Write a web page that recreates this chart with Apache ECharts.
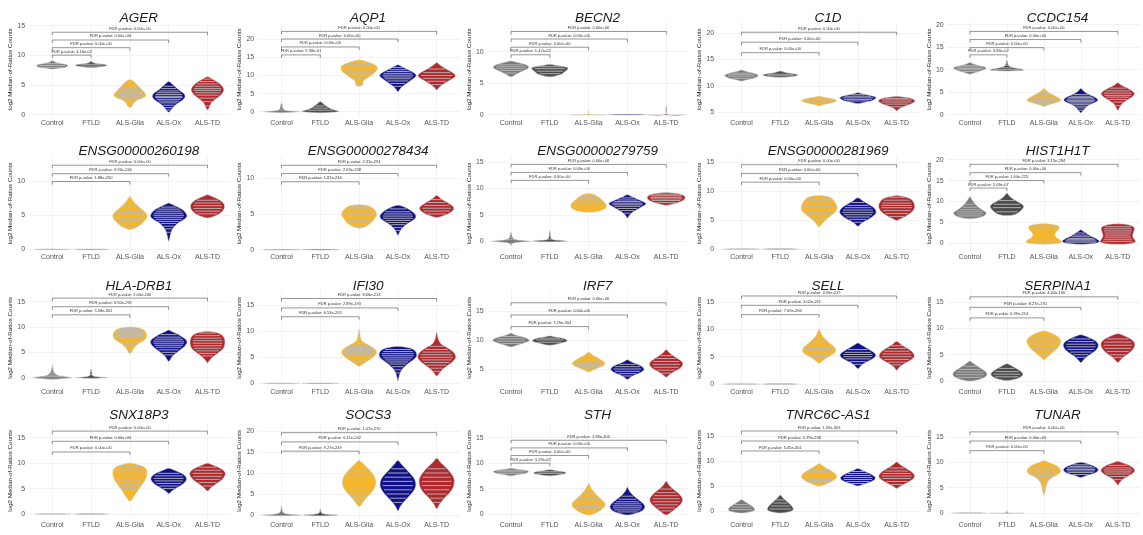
<!DOCTYPE html>
<html>
<head>
<meta charset="utf-8">
<script src="https://cdn.jsdelivr.net/npm/echarts@6/dist/echarts.min.js"></script>
<style>
html, body { margin: 0; padding: 0; background: #ffffff; }
#chart { width: 1143px; height: 535px; }
</style>
</head>
<body>
<div id="chart"></div>
<script>
// ---- groups and genes ----
const groups = ['Control', 'FTLD', 'ALS-Glia', 'ALS-Ox', 'ALS-TD'];
const genes = ['AGER', 'AQP1', 'BECN2', 'C1D', 'CCDC154',
  'ENSG00000260198', 'ENSG00000278434', 'ENSG00000279759', 'ENSG00000281969', 'HIST1H1T',
  'HLA-DRB1', 'IFI30', 'IRF7', 'SELL', 'SERPINA1',
  'SNX18P3', 'SOCS3', 'STH', 'TNRC6C-AS1', 'TUNAR'];

// value-axis limits per gene [min, max]
const yLimits = [
  [-0.30, 15.63], [-1.33, 24.8], [-0.29, 14.7], [4.14, 22.15], [-0.40, 20.6],
  [-0.22, 13.7], [-0.15, 13.1], [-1.79, 16.1], [-0.31, 16.0], [-1.87, 20.9],
  [-1.54, 17.3], [-0.42, 17.94], [2.16, 18.6], [-0.27, 17.2], [-0.85, 17.3],
  [-0.89, 17.9], [-0.83, 21.9], [-0.89, 17.9], [-1.5, 17.6], [-1.08, 17.75]
];

// Violin outlines: per group, [log2 count, half-width] from bottom tip to top tip.
// Observation lines: per group, log2 counts drawn as strokes inside the violin.
// FDR brackets: [group compared with Control, bracket height, FDR p-value].
const FLAT = [[-0.05, 0], [0, 0.47], [0.05, 0]];

const violinAGER = [
  [[7.7,0],[7.8,0.12],[7.95,0.3],[8.1,0.38],[8.3,0.40],[8.5,0.34],[8.65,0.2],[8.8,0.1],[8.95,0.05],[9.15,0]],
  [[7.95,0],[8.05,0.2],[8.2,0.36],[8.35,0.40],[8.5,0.3],[8.65,0.12],[8.8,0.05],[9.0,0]],
  [[1.2,0],[1.5,0.06],[2.0,0.1],[2.5,0.2],[2.9,0.36],[3.3,0.41],[3.8,0.37],[4.3,0.3],[4.8,0.22],[5.3,0.15],[5.7,0.08],[5.9,0]],
  [[0.4,0],[0.7,0.05],[1.0,0.08],[1.5,0.15],[2.0,0.25],[2.5,0.36],[3.0,0.42],[3.5,0.4],[4.0,0.3],[4.5,0.2],[5.0,0.12],[5.4,0.05],[5.6,0]],
  [[0.8,0],[1.3,0.05],[2.0,0.1],[2.6,0.2],[3.2,0.32],[3.8,0.4],[4.3,0.42],[4.8,0.38],[5.3,0.3],[5.8,0.18],[6.2,0.08],[6.4,0]]
];
const obsAGER = [[8.0,8.3,8.6],[8.2,8.5],[1.6,2.3,2.8,3.1,3.4,3.7,4.0,4.4,4.9,5.3],[0.8,1.2,1.6,2.0,2.3,2.6,2.9,3.1,3.4,3.7,4.0,4.4,4.8],[1.5,2.2,2.8,3.3,3.7,4.1,4.4,4.8,5.2,5.6,6.0]];
const fdrAGER = [[1,10.05,'4.16e-02'],[2,11.3,'0.00e+00'],[3,12.6,'0.00e+00'],[4,13.9,'0.00e+00']];

const violinAQP1 = [
  [[-0.3,0],[-0.15,0.25],[0,0.46],[0.15,0.3],[0.35,0.1],[0.7,0.05],[1.2,0.03],[1.8,0.02],[2.3,0]],
  [[-0.3,0],[-0.1,0.4],[0.1,0.48],[0.4,0.38],[0.8,0.27],[1.2,0.2],[1.7,0.14],[2.2,0.08],[2.6,0.03],[2.8,0]],
  [[7.0,0],[7.3,0.08],[7.8,0.1],[8.4,0.1],[9.0,0.17],[9.6,0.25],[10.2,0.33],[10.8,0.4],[11.4,0.45],[12.0,0.47],[12.6,0.45],[13.2,0.36],[13.8,0.2],[14.3,0]],
  [[5.5,0],[6.2,0.05],[7.0,0.12],[7.8,0.22],[8.6,0.33],[9.3,0.42],[10.0,0.47],[10.7,0.42],[11.4,0.3],[12.1,0.17],[12.7,0.06],[13.0,0]],
  [[6.0,0],[6.7,0.06],[7.5,0.15],[8.3,0.27],[9.1,0.4],[9.8,0.48],[10.5,0.45],[11.2,0.35],[11.9,0.23],[12.6,0.12],[13.2,0.05],[13.6,0]]
];
const obsAQP1 = [[0.5,1.2],[0.4,1.0,1.6],[7.6,8.3,9.2,10.1,10.9,11.6,12.3,13.0],[7.0,7.8,8.5,9.1,9.6,10.1,10.6,11.1,11.6,12.2],[7.5,8.4,9.2,10.0,10.8,11.8]];
const fdrAQP1 = [[1,15.7,'9.38e-01'],[2,17.9,'0.00e+00'],[3,20.1,'0.00e+00'],[4,22.2,'0.00e+00']];

const violinBECN2 = [
  [[6.0,0],[6.3,0.1],[6.7,0.22],[7.1,0.36],[7.5,0.46],[7.8,0.42],[8.1,0.28],[8.35,0.12],[8.5,0]],
  [[6.0,0],[6.15,0.15],[6.4,0.3],[6.8,0.38],[7.1,0.44],[7.4,0.47],[7.6,0.38],[7.8,0.18],[7.95,0]],
  [[-0.05,0],[0,0.48],[0.05,0.02],[0.6,0]],
  [[-0.05,0],[0,0.48],[0.05,0]],
  [[-0.05,0],[0,0.48],[0.05,0.02],[1.5,0]]
];
const obsBECN2 = [[6.6,7.0,7.3,7.6,7.9],[6.5,6.9,7.3,7.6],[],[],[]];
const fdrBECN2 = [[1,9.5,'1.47e-02'],[2,10.7,'0.00e+00'],[3,12.0,'0.00e+00'],[4,13.2,'0.00e+00']];

const violinC1D = [
  [[10.9,0],[11.1,0.12],[11.4,0.3],[11.7,0.4],[12.0,0.43],[12.3,0.35],[12.6,0.18],[12.8,0.08],[13.0,0]],
  [[11.6,0],[11.7,0.25],[11.9,0.42],[12.1,0.45],[12.3,0.32],[12.5,0.15],[12.7,0.05],[12.8,0]],
  [[6.2,0],[6.4,0.1],[6.7,0.3],[7.0,0.42],[7.2,0.45],[7.4,0.4],[7.6,0.28],[7.8,0.12],[8.0,0]],
  [[6.6,0],[6.8,0.15],[7.1,0.33],[7.4,0.42],[7.7,0.47],[8.0,0.4],[8.3,0.22],[8.5,0.08],[8.7,0]],
  [[5.2,0],[5.6,0.06],[6.0,0.16],[6.4,0.32],[6.8,0.43],[7.1,0.47],[7.4,0.44],[7.7,0.3],[7.9,0.12],[8.0,0]]
];
const obsC1D = [[11.4,11.8,12.1,12.4],[11.9,12.2],[6.7,7.1,7.4],[7.1,7.4,7.7,8.0,8.3],[6.0,6.5,6.9,7.3,7.6]];
const fdrC1D = [[2,16.3,'0.00e+00'],[3,18.3,'0.00e+00'],[4,20.2,'0.00e+00']];

const violinCCDC154 = [
  [[9.0,0],[9.3,0.12],[9.7,0.28],[10.1,0.4],[10.4,0.44],[10.7,0.36],[11.0,0.2],[11.3,0.08],[11.6,0]],
  [[9.7,0],[9.8,0.3],[9.95,0.45],[10.15,0.38],[10.4,0.2],[10.7,0.08],[11.0,0.04],[11.5,0.02],[12.1,0]],
  [[1.8,0],[2.1,0.08],[2.4,0.2],[2.8,0.38],[3.2,0.46],[3.6,0.42],[4.1,0.32],[4.6,0.2],[5.1,0.1],[5.5,0.05],[5.8,0]],
  [[0.4,0],[0.8,0.05],[1.3,0.1],[1.8,0.16],[2.3,0.26],[2.8,0.4],[3.2,0.46],[3.7,0.42],[4.2,0.3],[4.7,0.17],[5.2,0.08],[5.8,0]],
  [[1.0,0],[1.6,0.05],[2.3,0.1],[3.0,0.2],[3.6,0.32],[4.2,0.42],[4.7,0.45],[5.2,0.4],[5.7,0.3],[6.2,0.18],[6.7,0.07],[7.1,0]]
];
const obsCCDC154 = [[9.6,10.0,10.3,10.6,10.9],[10.0,10.4,11.0,11.5],[2.2,2.7,3.1,3.5,3.9,4.4,5.0],[1.0,1.5,1.9,2.3,2.6,2.9,3.2,3.5,3.8,4.1,4.5],[2.0,2.8,3.4,3.9,4.3,4.8,5.3,5.9]];
const fdrCCDC154 = [[1,13.3,'3.84e-02'],[2,14.9,'0.00e+00'],[3,16.7,'0.00e+00'],[4,18.5,'0.00e+00']];

const violinENSG00000260198 = [
  FLAT, FLAT,
  [[2.9,0],[3.1,0.12],[3.5,0.25],[4.0,0.35],[4.5,0.42],[5.0,0.44],[5.5,0.38],[6.0,0.28],[6.5,0.18],[7.0,0.1],[7.4,0.05],[7.8,0]],
  [[1.2,0],[1.8,0.03],[2.5,0.06],[3.0,0.1],[3.5,0.17],[4.0,0.28],[4.5,0.42],[4.9,0.47],[5.4,0.43],[5.9,0.33],[6.3,0.2],[6.6,0.08],[6.8,0]],
  [[4.6,0],[4.8,0.15],[5.2,0.3],[5.7,0.4],[6.2,0.44],[6.7,0.42],[7.2,0.32],[7.6,0.18],[7.9,0.06],[8.0,0]]
];
const obsENSG00000260198 = [[],[],[3.4,3.8,4.2,4.6,5.0,5.4,5.8,6.2,6.7],[2.5,3.0,3.4,3.8,4.1,4.4,4.7,5.0,5.3,5.6,5.9,6.2],[5.2,5.6,6.0,6.4,6.8,7.2]];
const fdrENSG00000260198 = [[2,9.95,'1.88e-250'],[3,11.1,'3.96e-244'],[4,12.35,'0.00e+00']];

const violinENSG00000278434 = [
  FLAT, FLAT,
  [[3.0,0],[3.2,0.15],[3.6,0.27],[4.1,0.36],[4.6,0.43],[5.0,0.45],[5.4,0.42],[5.8,0.35],[6.1,0.25],[6.3,0]],
  [[2.0,0],[2.4,0.04],[2.9,0.09],[3.4,0.18],[3.9,0.32],[4.4,0.45],[4.8,0.46],[5.2,0.4],[5.6,0.3],[6.0,0.15],[6.2,0]],
  [[4.5,0],[4.7,0.15],[5.1,0.32],[5.5,0.42],[5.9,0.44],[6.3,0.36],[6.7,0.24],[7.1,0.12],[7.4,0.05],[7.6,0]]
];
const obsENSG00000278434 = [[],[],[3.3,3.7,4.1,4.5,4.9,5.3,5.7,6.1],[2.7,3.1,3.5,3.8,4.1,4.4,4.7,5.0,5.3,5.7],[5.0,5.4,5.8,6.2,6.6,7.0]];
const fdrENSG00000278434 = [[2,9.5,'1.87e-234'],[3,10.65,'2.63e-238'],[4,11.8,'2.31e-294']];

const violinENSG00000279759 = [
  [[-0.8,0],[-0.4,0.03],[-0.15,0.25],[0,0.5],[0.15,0.3],[0.4,0.08],[0.9,0.03],[1.7,0]],
  [[-0.1,0],[0,0.45],[0.15,0.3],[0.4,0.05],[1.0,0.02],[2.0,0]],
  [[5.5,0],[5.6,0.18],[5.9,0.35],[6.3,0.44],[6.8,0.46],[7.3,0.42],[7.8,0.34],[8.3,0.26],[8.7,0.18],[8.9,0.1],[9.0,0]],
  [[4.4,0],[4.8,0.04],[5.3,0.1],[5.8,0.2],[6.3,0.32],[6.8,0.44],[7.1,0.48],[7.5,0.4],[8.0,0.25],[8.4,0.12],[8.8,0]],
  [[6.8,0],[7.0,0.15],[7.4,0.34],[7.8,0.45],[8.2,0.49],[8.6,0.46],[8.9,0.35],[9.1,0.18],[9.2,0]]
];
const obsENSG00000279759 = [[-0.4,0.3,0.7,1.2],[0.4,1.0,1.5],[6.0,6.4,6.8,7.2,7.6,8.0,8.5],[5.3,5.8,6.2,6.6,6.9,7.2,7.5,7.8,8.2],[7.3,7.7,8.0,8.3,8.6,8.9]];
const fdrENSG00000279759 = [[2,11.5,'0.00e+00'],[3,13.0,'0.00e+00'],[4,14.5,'0.00e+00']];

const violinENSG00000281969 = [
  FLAT, FLAT,
  [[3.8,0],[4.3,0.07],[4.9,0.15],[5.5,0.26],[6.1,0.37],[6.7,0.45],[7.3,0.46],[7.9,0.42],[8.5,0.36],[8.9,0.28],[9.1,0.15],[9.2,0]],
  [[3.9,0],[4.3,0.07],[4.8,0.18],[5.3,0.32],[5.8,0.42],[6.3,0.47],[6.8,0.45],[7.3,0.37],[7.8,0.25],[8.3,0.12],[8.8,0]],
  [[4.9,0],[5.2,0.1],[5.6,0.22],[6.1,0.34],[6.6,0.42],[7.1,0.46],[7.6,0.46],[8.1,0.43],[8.6,0.36],[8.9,0.24],[9.1,0.1],[9.2,0]]
];
const obsENSG00000281969 = [[],[],[4.7,5.3,5.8,6.3,6.8,7.3,7.8,8.3,8.8],[4.6,5.1,5.5,5.9,6.3,6.7,7.1,7.5,8.0],[5.6,6.1,6.6,7.1,7.5,7.9,8.4,8.9]];
const fdrENSG00000281969 = [[2,11.5,'0.00e+00'],[3,13.0,'0.00e+00'],[4,14.5,'0.00e+00']];

const violinHIST1H1T = [
  [[5.8,0],[6.0,0.2],[6.4,0.36],[6.9,0.43],[7.3,0.44],[7.8,0.36],[8.4,0.26],[9.0,0.18],[9.6,0.12],[10.2,0.07],[10.8,0.03],[11.2,0]],
  [[6.6,0],[6.8,0.2],[7.2,0.3],[7.8,0.38],[8.4,0.44],[8.9,0.45],[9.4,0.4],[10.0,0.28],[10.6,0.16],[11.2,0.08],[11.7,0.03],[12.0,0]],
  [[-0.3,0],[-0.1,0.35],[0.2,0.48],[0.6,0.46],[1.0,0.38],[1.5,0.32],[2.0,0.3],[2.5,0.32],[3.0,0.37],[3.5,0.41],[4.0,0.4],[4.3,0.32],[4.6,0]],
  [[-0.3,0],[-0.1,0.35],[0.2,0.48],[0.5,0.5],[0.9,0.44],[1.3,0.35],[1.7,0.26],[2.1,0.18],[2.5,0.12],[2.9,0.05],[3.2,0]],
  [[-0.3,0],[-0.1,0.35],[0.3,0.48],[0.7,0.46],[1.2,0.42],[1.8,0.4],[2.4,0.42],[3.0,0.44],[3.6,0.45],[4.0,0.4],[4.4,0.28],[4.6,0]]
];
const obsHIST1H1T = [[6.5,7.0,7.5,8.0,8.6,9.3],[7.5,8.5,9.3,10.2],[0.3,0.8,1.3,1.8,2.3,2.8,3.3,3.8,4.2],[0.2,0.5,0.8,1.1,1.5,1.9,2.4],[0.4,0.9,1.4,1.9,2.4,2.9,3.4,3.9]];
const fdrHIST1H1T = [[1,13.2,'5.08e-07'],[2,15.0,'1.64e-225'],[3,16.9,'0.00e+00'],[4,18.9,'3.15e-284']];

const violinHLA_DRB1 = [
  [[-0.3,0],[-0.1,0.35],[0,0.5],[0.2,0.35],[0.5,0.12],[1.0,0.05],[1.6,0.02],[2.4,0]],
  [[-0.1,0],[0,0.42],[0.15,0.2],[0.4,0.04],[1.0,0.02],[1.7,0]],
  [[4.8,0],[5.1,0.05],[5.6,0.08],[6.1,0.13],[6.6,0.2],[7.1,0.3],[7.6,0.39],[8.1,0.43],[8.6,0.43],[9.1,0.4],[9.5,0.34],[9.8,0.22],[10.0,0]],
  [[3.2,0],[3.7,0.05],[4.3,0.1],[4.9,0.2],[5.5,0.3],[6.1,0.4],[6.7,0.46],[7.2,0.47],[7.7,0.42],[8.2,0.32],[8.7,0.2],[9.1,0.08],[9.4,0]],
  [[2.9,0],[3.4,0.05],[4.0,0.12],[4.6,0.22],[5.2,0.33],[5.8,0.41],[6.4,0.44],[7.0,0.45],[7.6,0.44],[8.2,0.4],[8.7,0.3],[9.0,0.15],[9.1,0]]
];
const obsHLA_DRB1 = [[0.2,0.5,0.9,1.3],[0.6,1.2,1.6],[5.3,6.0,6.6,7.1,7.6,8.1,8.5,8.9,9.3,9.7],[4.5,5.0,5.5,6.0,6.4,6.8,7.2,7.6,8.0,8.5],[4.3,4.8,5.3,5.8,6.3,6.8,7.3,7.8,8.3,8.8]];
const fdrHLA_DRB1 = [[2,12.4,'5.58e-301'],[3,14.0,'3.50e-292'],[4,15.7,'2.00e-240']];

const violinIFI30 = [
  FLAT, FLAT,
  [[3.3,0],[3.6,0.08],[4.1,0.18],[4.6,0.28],[5.1,0.37],[5.6,0.43],[6.1,0.45],[6.6,0.4],[7.1,0.3],[7.6,0.18],[8.1,0.08],[8.7,0.04],[9.5,0.02],[10.4,0]],
  [[0.4,0],[1.0,0.02],[1.6,0.04],[2.2,0.07],[2.8,0.12],[3.4,0.2],[4.0,0.3],[4.6,0.41],[5.2,0.48],[5.8,0.48],[6.4,0.42],[6.8,0.3],[7.1,0]],
  [[1.4,0],[2.0,0.07],[2.6,0.14],[3.2,0.24],[3.8,0.35],[4.4,0.44],[5.0,0.49],[5.6,0.47],[6.2,0.4],[6.8,0.28],[7.4,0.14],[8.0,0.07],[8.8,0.03],[9.8,0]]
];
const obsIFI30 = [[],[],[3.9,4.5,5.0,5.5,5.9,6.3,6.7,7.1,7.6,9.3],[2.0,2.6,3.2,3.7,4.1,4.5,4.9,5.3,5.7,6.1,6.5],[2.3,2.9,3.5,4.0,4.5,5.0,5.5,6.0,6.5,7.1]];
const fdrIFI30 = [[2,12.8,'6.53e-202'],[3,14.5,'2.89e-193'],[4,16.3,'8.66e-213']];

const violinIRF7 = [
  [[8.8,0],[9.1,0.15],[9.5,0.35],[9.9,0.47],[10.3,0.4],[10.7,0.2],[11.0,0.06],[11.2,0]],
  [[9.1,0],[9.4,0.25],[9.8,0.45],[10.2,0.38],[10.5,0.15],[10.7,0]],
  [[4.5,0],[4.8,0.1],[5.2,0.25],[5.6,0.38],[6.0,0.42],[6.4,0.36],[6.9,0.24],[7.4,0.1],[7.9,0]],
  [[3.2,0],[3.6,0.08],[4.0,0.2],[4.4,0.34],[4.9,0.43],[5.4,0.38],[5.9,0.22],[6.3,0.08],[6.6,0]],
  [[3.6,0],[4.1,0.1],[4.6,0.22],[5.1,0.35],[5.6,0.42],[6.1,0.42],[6.6,0.34],[7.2,0.2],[7.8,0.08],[8.3,0]]
];
const obsIRF7 = [[9.4,9.8,10.2,10.6],[9.6,10.0,10.3],[5.0,5.4,5.8,6.2,6.6,7.0],[3.8,4.2,4.6,5.0,5.4,5.8],[4.3,4.8,5.3,5.8,6.3,6.8,7.3]];
const fdrIRF7 = [[2,12.3,'7.29e-304'],[3,14.3,'0.00e+00'],[4,16.4,'0.00e+00']];

const violinSELL = [
  FLAT, FLAT,
  [[3.8,0],[4.2,0.08],[4.7,0.18],[5.2,0.3],[5.7,0.4],[6.2,0.43],[6.7,0.4],[7.2,0.32],[7.8,0.22],[8.4,0.13],[9.0,0.07],[9.6,0.03],[10.0,0]],
  [[2.8,0],[3.2,0.06],[3.7,0.14],[4.2,0.27],[4.7,0.4],[5.2,0.46],[5.7,0.42],[6.2,0.32],[6.7,0.2],[7.2,0.08],[7.5,0]],
  [[2.5,0],[3.0,0.06],[3.5,0.14],[4.0,0.26],[4.5,0.38],[5.0,0.45],[5.5,0.44],[6.0,0.38],[6.6,0.26],[7.2,0.12],[7.8,0]]
];
const obsSELL = [[],[],[4.5,5.0,5.5,6.0,6.5,7.0,7.5,8.2],[3.6,4.1,4.6,5.0,5.4,5.8,6.3],[3.5,4.0,4.5,5.0,5.5,6.0,6.5,7.0]];
const fdrSELL = [[2,12.7,'7.69e-266'],[3,14.4,'3.02e-211'],[4,16.1,'3.09e-219']];

const violinSERPINA1 = [
  [[0.0,0],[0.3,0.25],[0.8,0.42],[1.3,0.46],[1.8,0.42],[2.4,0.3],[3.0,0.16],[3.5,0.06],[3.8,0]],
  [[0.1,0],[0.4,0.25],[0.9,0.4],[1.4,0.43],[1.9,0.36],[2.5,0.22],[3.0,0.1],[3.3,0]],
  [[4.0,0],[4.5,0.08],[5.1,0.18],[5.7,0.28],[6.3,0.37],[6.9,0.43],[7.5,0.46],[8.1,0.43],[8.7,0.32],[9.2,0.16],[9.5,0]],
  [[3.5,0],[4.0,0.07],[4.6,0.16],[5.2,0.28],[5.8,0.4],[6.4,0.46],[7.0,0.47],[7.6,0.4],[8.2,0.25],[8.6,0.1],[8.8,0]],
  [[3.5,0],[4.0,0.07],[4.6,0.16],[5.2,0.28],[5.8,0.38],[6.4,0.44],[7.0,0.46],[7.6,0.42],[8.2,0.3],[8.7,0.14],[9.0,0]]
];
const obsSERPINA1 = [[0.7,1.2,1.7,2.2,2.8],[0.8,1.3,1.8,2.4],[5.0,5.6,6.2,6.8,7.4,8.0,8.6],[4.5,5.0,5.5,6.0,6.5,7.0,7.5,8.0],[4.5,5.0,5.6,6.2,6.8,7.4,8.0]];
const fdrSERPINA1 = [[2,12.0,'6.39e-214'],[3,14.0,'8.27e-170'],[4,16.0,'4.44e-166']];

const violinSNX18P3 = [
  FLAT, FLAT,
  [[2.5,0],[3.2,0.08],[4.0,0.15],[4.8,0.22],[5.6,0.3],[6.4,0.37],[7.2,0.42],[8.0,0.44],[8.8,0.42],[9.4,0.32],[9.8,0.15],[10.0,0]],
  [[4.0,0],[4.5,0.08],[5.1,0.2],[5.7,0.33],[6.3,0.42],[6.9,0.46],[7.5,0.42],[8.1,0.3],[8.6,0.15],[9.0,0]],
  [[4.5,0],[5.1,0.08],[5.8,0.2],[6.5,0.33],[7.2,0.42],[7.9,0.46],[8.5,0.42],[9.1,0.3],[9.6,0.15],[10.0,0]]
];
const obsSNX18P3 = [[],[],[4.0,5.0,5.8,6.5,7.2,7.9,8.6,9.3],[5.0,5.5,6.0,6.5,7.0,7.5,8.0],[5.5,6.2,6.8,7.4,8.0,8.6,9.2]];
const fdrSNX18P3 = [[2,12.2,'0.00e+00'],[3,14.3,'0.00e+00'],[4,16.3,'0.00e+00']];

const violinSOCS3 = [
  [[-0.2,0],[0,0.5],[0.2,0.2],[0.6,0.04],[2.0,0]],
  [[-0.2,0],[0,0.45],[0.2,0.15],[0.5,0.03],[1.5,0]],
  [[2.0,0],[2.8,0.08],[3.8,0.16],[4.8,0.26],[5.8,0.35],[6.8,0.41],[7.8,0.43],[8.8,0.41],[9.8,0.35],[10.8,0.26],[11.8,0.15],[12.6,0.06],[13.0,0]],
  [[1.0,0],[2.0,0.06],[3.0,0.14],[4.0,0.24],[5.0,0.34],[6.0,0.42],[7.0,0.46],[8.0,0.45],[9.0,0.4],[10.0,0.3],[11.0,0.2],[12.0,0.1],[13.0,0]],
  [[1.5,0],[2.5,0.07],[3.5,0.15],[4.5,0.25],[5.5,0.35],[6.5,0.42],[7.5,0.45],[8.5,0.45],[9.5,0.4],[10.5,0.32],[11.5,0.22],[12.5,0.1],[13.5,0]]
];
const obsSOCS3 = [[],[],[3.5,4.5,5.5,6.5,7.5,8.5,9.5,10.5],[3,4,5,6,7,8,9,10,11],[3,4,5,6,7,8,9,10,11]];
const fdrSOCS3 = [[2,15.2,'9.27e-249'],[3,17.4,'6.11e-242'],[4,19.6,'1.07e-270']];

const violinSTH = [
  [[7.5,0],[7.7,0.15],[7.9,0.32],[8.15,0.43],[8.4,0.45],[8.6,0.35],[8.8,0.15],[9.0,0]],
  [[7.5,0],[7.65,0.2],[7.85,0.36],[8.05,0.42],[8.3,0.35],[8.5,0.18],[8.7,0]],
  [[-0.2,0],[0.1,0.15],[0.6,0.28],[1.1,0.37],[1.6,0.42],[2.1,0.42],[2.6,0.37],[3.2,0.28],[3.8,0.2],[4.4,0.13],[5.0,0.07],[5.6,0.03],[6.0,0]],
  [[-0.2,0],[0.1,0.2],[0.5,0.35],[1.0,0.43],[1.5,0.45],[2.0,0.41],[2.6,0.32],[3.2,0.22],[3.8,0.13],[4.4,0.06],[5.0,0.02],[5.3,0]],
  [[-0.2,0],[0.2,0.1],[0.8,0.2],[1.4,0.3],[2.0,0.38],[2.6,0.42],[3.2,0.41],[3.8,0.35],[4.4,0.26],[5.0,0.16],[5.6,0.08],[6.2,0.03],[6.5,0]]
];
const obsSTH = [[8.0,8.3,8.6],[8.0,8.3],[0.5,1.0,1.5,2.0,2.5,3.0,3.6,4.3],[0.4,0.8,1.2,1.6,2.0,2.4,2.9,3.5],[0.6,1.2,1.8,2.4,3.0,3.6,4.2,4.9]];
const fdrSTH = [[1,10.0,'3.29e-02'],[2,11.5,'0.00e+00'],[3,13.0,'0.00e+00'],[4,14.5,'1.98e-305']];

const violinTNRC6C_AS1 = [
  [[-0.4,0],[-0.2,0.2],[0.1,0.33],[0.5,0.33],[0.9,0.28],[1.3,0.2],[1.7,0.12],[2.0,0.06],[2.3,0]],
  [[-0.4,0],[-0.2,0.2],[0.2,0.33],[0.7,0.32],[1.2,0.27],[1.7,0.2],[2.2,0.13],[2.6,0.07],[3.0,0.03],[3.2,0]],
  [[5.0,0],[5.3,0.15],[5.8,0.3],[6.3,0.4],[6.8,0.45],[7.3,0.43],[7.8,0.36],[8.3,0.25],[8.8,0.14],[9.2,0.06],[9.5,0]],
  [[5.0,0],[5.3,0.12],[5.7,0.28],[6.1,0.4],[6.5,0.45],[6.9,0.43],[7.3,0.35],[7.7,0.24],[8.1,0.12],[8.5,0]],
  [[4.5,0],[4.9,0.08],[5.4,0.2],[5.9,0.32],[6.4,0.42],[6.9,0.46],[7.4,0.44],[7.9,0.37],[8.4,0.27],[8.9,0.16],[9.4,0.07],[9.8,0]]
];
const obsTNRC6C_AS1 = [[0.3,0.8,1.3],[0.4,1.0,1.6,2.2],[5.6,6.1,6.6,7.1,7.6,8.1,8.7],[5.5,5.9,6.3,6.7,7.1,7.5,7.9],[5.3,5.9,6.5,7.0,7.5,8.0,8.6]];
const fdrTNRC6C_AS1 = [[2,12.0,'5.45e-301'],[3,14.0,'5.39e-248'],[4,16.0,'1.59e-303']];

const violinTUNAR = [
  FLAT,
  [[-0.05,0],[0,0.47],[0.05,0.02],[0.6,0]],
  [[3.5,0],[4.2,0.03],[5.0,0.05],[5.8,0.08],[6.5,0.14],[7.0,0.22],[7.5,0.35],[8.0,0.44],[8.5,0.45],[9.0,0.4],[9.5,0.3],[9.9,0.15],[10.3,0]],
  [[7.0,0],[7.3,0.12],[7.7,0.3],[8.1,0.43],[8.5,0.47],[8.9,0.44],[9.3,0.33],[9.7,0.18],[10.0,0]],
  [[5.5,0],[6.1,0.06],[6.7,0.14],[7.2,0.26],[7.7,0.38],[8.2,0.45],[8.6,0.45],[9.0,0.4],[9.5,0.28],[9.9,0.12],[10.2,0]]
];
const obsTUNAR = [[],[],[4.5,5.5,6.5,7.2,7.7,8.1,8.5,8.9,9.3],[7.6,8.0,8.3,8.6,8.9,9.2,9.5],[6.6,7.2,7.7,8.1,8.5,8.9,9.4]];
const fdrTUNAR = [[2,12.3,'0.00e+00'],[3,14.2,'0.00e+00'],[4,16.0,'0.00e+00']];

const violins = [violinAGER, violinAQP1, violinBECN2, violinC1D, violinCCDC154,
  violinENSG00000260198, violinENSG00000278434, violinENSG00000279759, violinENSG00000281969, violinHIST1H1T,
  violinHLA_DRB1, violinIFI30, violinIRF7, violinSELL, violinSERPINA1,
  violinSNX18P3, violinSOCS3, violinSTH, violinTNRC6C_AS1, violinTUNAR];
const observations = [obsAGER, obsAQP1, obsBECN2, obsC1D, obsCCDC154,
  obsENSG00000260198, obsENSG00000278434, obsENSG00000279759, obsENSG00000281969, obsHIST1H1T,
  obsHLA_DRB1, obsIFI30, obsIRF7, obsSELL, obsSERPINA1,
  obsSNX18P3, obsSOCS3, obsSTH, obsTNRC6C_AS1, obsTUNAR];
const fdrBrackets = [fdrAGER, fdrAQP1, fdrBECN2, fdrC1D, fdrCCDC154,
  fdrENSG00000260198, fdrENSG00000278434, fdrENSG00000279759, fdrENSG00000281969, fdrHIST1H1T,
  fdrHLA_DRB1, fdrIFI30, fdrIRF7, fdrSELL, fdrSERPINA1,
  fdrSNX18P3, fdrSOCS3, fdrSTH, fdrTNRC6C_AS1, fdrTUNAR];

// ---- styling & layout ----
const FONT = '"Liberation Sans", Arial, Helvetica, sans-serif';
const groupColors = ['#7a7a7a', '#4b4b4b', '#f7b72a', '#10108a', '#b2282d'];
const colFirst = [52.3, 281.5, 511, 741.5, 971];   // pixel x of the Control column
const catStep = 38.8;                                 // pixels between groups
const rowTop = [22, 156, 290, 423];
const rowBottom = [116.5, 250.8, 385.5, 518.5];
const titleTop = [6, 139, 274.5, 403.5];

function widthAt(profile, v) {
  for (let i = 1; i < profile.length; i++) {
    const a = profile[i - 1], b = profile[i];
    if (v >= a[0] && v <= b[0]) {
      const t = b[0] === a[0] ? 0 : (v - a[0]) / (b[0] - a[0]);
      return a[1] + t * (b[1] - a[1]);
    }
  }
  return 0;
}

function violinRenderer(shapes, obs) {
  return function (params, api) {
    const gi = api.value(0);
    const prof = shapes[gi];
    const right = prof.map(p => api.coord([gi + p[1], p[0]]));
    const left = prof.slice(1, -1).reverse().map(p => api.coord([gi - p[1], p[0]]));
    const children = [{
      type: 'polygon',
      shape: { points: right.concat(left), smooth: 0.35 },
      style: { fill: groupColors[gi], stroke: '#c6c6c6', lineWidth: 0.5 }
    }];
    (obs[gi] || []).forEach(v => {
      const hw = widthAt(prof, v) * 0.85;
      if (hw <= 0) return;
      const a = api.coord([gi - hw, v]);
      const b = api.coord([gi + hw, v]);
      children.push({
        type: 'line',
        shape: { x1: a[0], y1: a[1], x2: b[0], y2: b[1] },
        style: { stroke: '#b9b9b9', lineWidth: 0.9 }
      });
    });
    return { type: 'group', children };
  };
}

function bracketRenderer(list) {
  return function (params, api) {
    const g = api.value(0), v = api.value(1);
    const a = api.coord([0, v]);
    const b = api.coord([g, v]);
    return {
      type: 'group',
      children: [
        {
          type: 'polyline',
          shape: { points: [[a[0], a[1] + 3], [a[0], a[1]], [b[0], b[1]], [b[0], b[1] + 3]] },
          style: { stroke: '#505050', lineWidth: 0.6, fill: null }
        },
        {
          type: 'text',
          style: {
            text: 'FDR p-value: ' + list[params.dataIndex][2],
            x: (a[0] + b[0]) / 2, y: a[1] - 1.6,
            align: 'center', verticalAlign: 'bottom',
            fontSize: 4, fontFamily: FONT, fill: '#333333'
          }
        }
      ]
    };
  };
}

const option = {
  animation: false,
  backgroundColor: '#ffffff',
  title: [], grid: [], xAxis: [], yAxis: [], series: []
};

genes.forEach((gene, i) => {
  const row = Math.floor(i / 5), col = i % 5;
  const left = colFirst[col] - 0.6 * catStep;
  option.grid.push({
    left: left, width: 5.2 * catStep,
    top: rowTop[row], height: rowBottom[row] - rowTop[row],
    containLabel: false
  });
  option.title.push({
    text: gene,
    left: colFirst[col] + 2 * catStep + 4, top: titleTop[row],
    textAlign: 'center',
    textStyle: { fontFamily: FONT, fontSize: 13.5, fontStyle: 'italic', fontWeight: 'normal', color: '#1a1a1a' }
  });
  option.xAxis.push({
    type: 'value', gridIndex: i, min: -0.6, max: 4.6, minInterval: 1, maxInterval: 1,
    axisLine: { show: false }, axisTick: { show: false },
    axisLabel: {
      fontFamily: FONT, fontSize: 7, color: '#555555', margin: 3,
      showMinLabel: true, showMaxLabel: true,
      formatter: v => {
        const r = Math.round(v);
        return Math.abs(v - r) < 1e-6 && r >= 0 && r < groups.length ? groups[r] : '';
      }
    },
    splitLine: { show: true, showMinLine: false, showMaxLine: false, lineStyle: { color: '#ebebeb', width: 0.6 } }
  });
  option.yAxis.push({
    type: 'value', gridIndex: i, min: yLimits[i][0], max: yLimits[i][1], minInterval: 5, maxInterval: 5,
    name: 'log2 Median-of-Ratios Counts', nameLocation: 'middle', nameGap: 9.5,
    nameTextStyle: { fontFamily: FONT, fontSize: 6.2, color: '#222222' },
    axisLine: { show: false }, axisTick: { show: false },
    axisLabel: {
      fontFamily: FONT, fontSize: 7, color: '#555555', margin: 4,
      showMinLabel: true, showMaxLabel: true,
      formatter: v => {
        const r = Math.round(v / 5) * 5;
        return Math.abs(v - r) < 1e-6 ? String(r) : '';
      }
    },
    splitLine: { show: true, showMinLine: false, showMaxLine: false, lineStyle: { color: '#ebebeb', width: 0.6 } }
  });
  option.series.push({
    type: 'custom', xAxisIndex: i, yAxisIndex: i, silent: true, clip: false,
    data: groups.map((g, gi) => [gi, 0]),
    renderItem: violinRenderer(violins[i], observations[i])
  });
  option.series.push({
    type: 'custom', xAxisIndex: i, yAxisIndex: i, silent: true, clip: false,
    data: fdrBrackets[i].map(d => [d[0], d[1]]),
    renderItem: bracketRenderer(fdrBrackets[i])
  });
});

const chart = echarts.init(document.getElementById('chart'), null, { renderer: 'canvas' });
chart.setOption(option);
</script>
</body>
</html>
